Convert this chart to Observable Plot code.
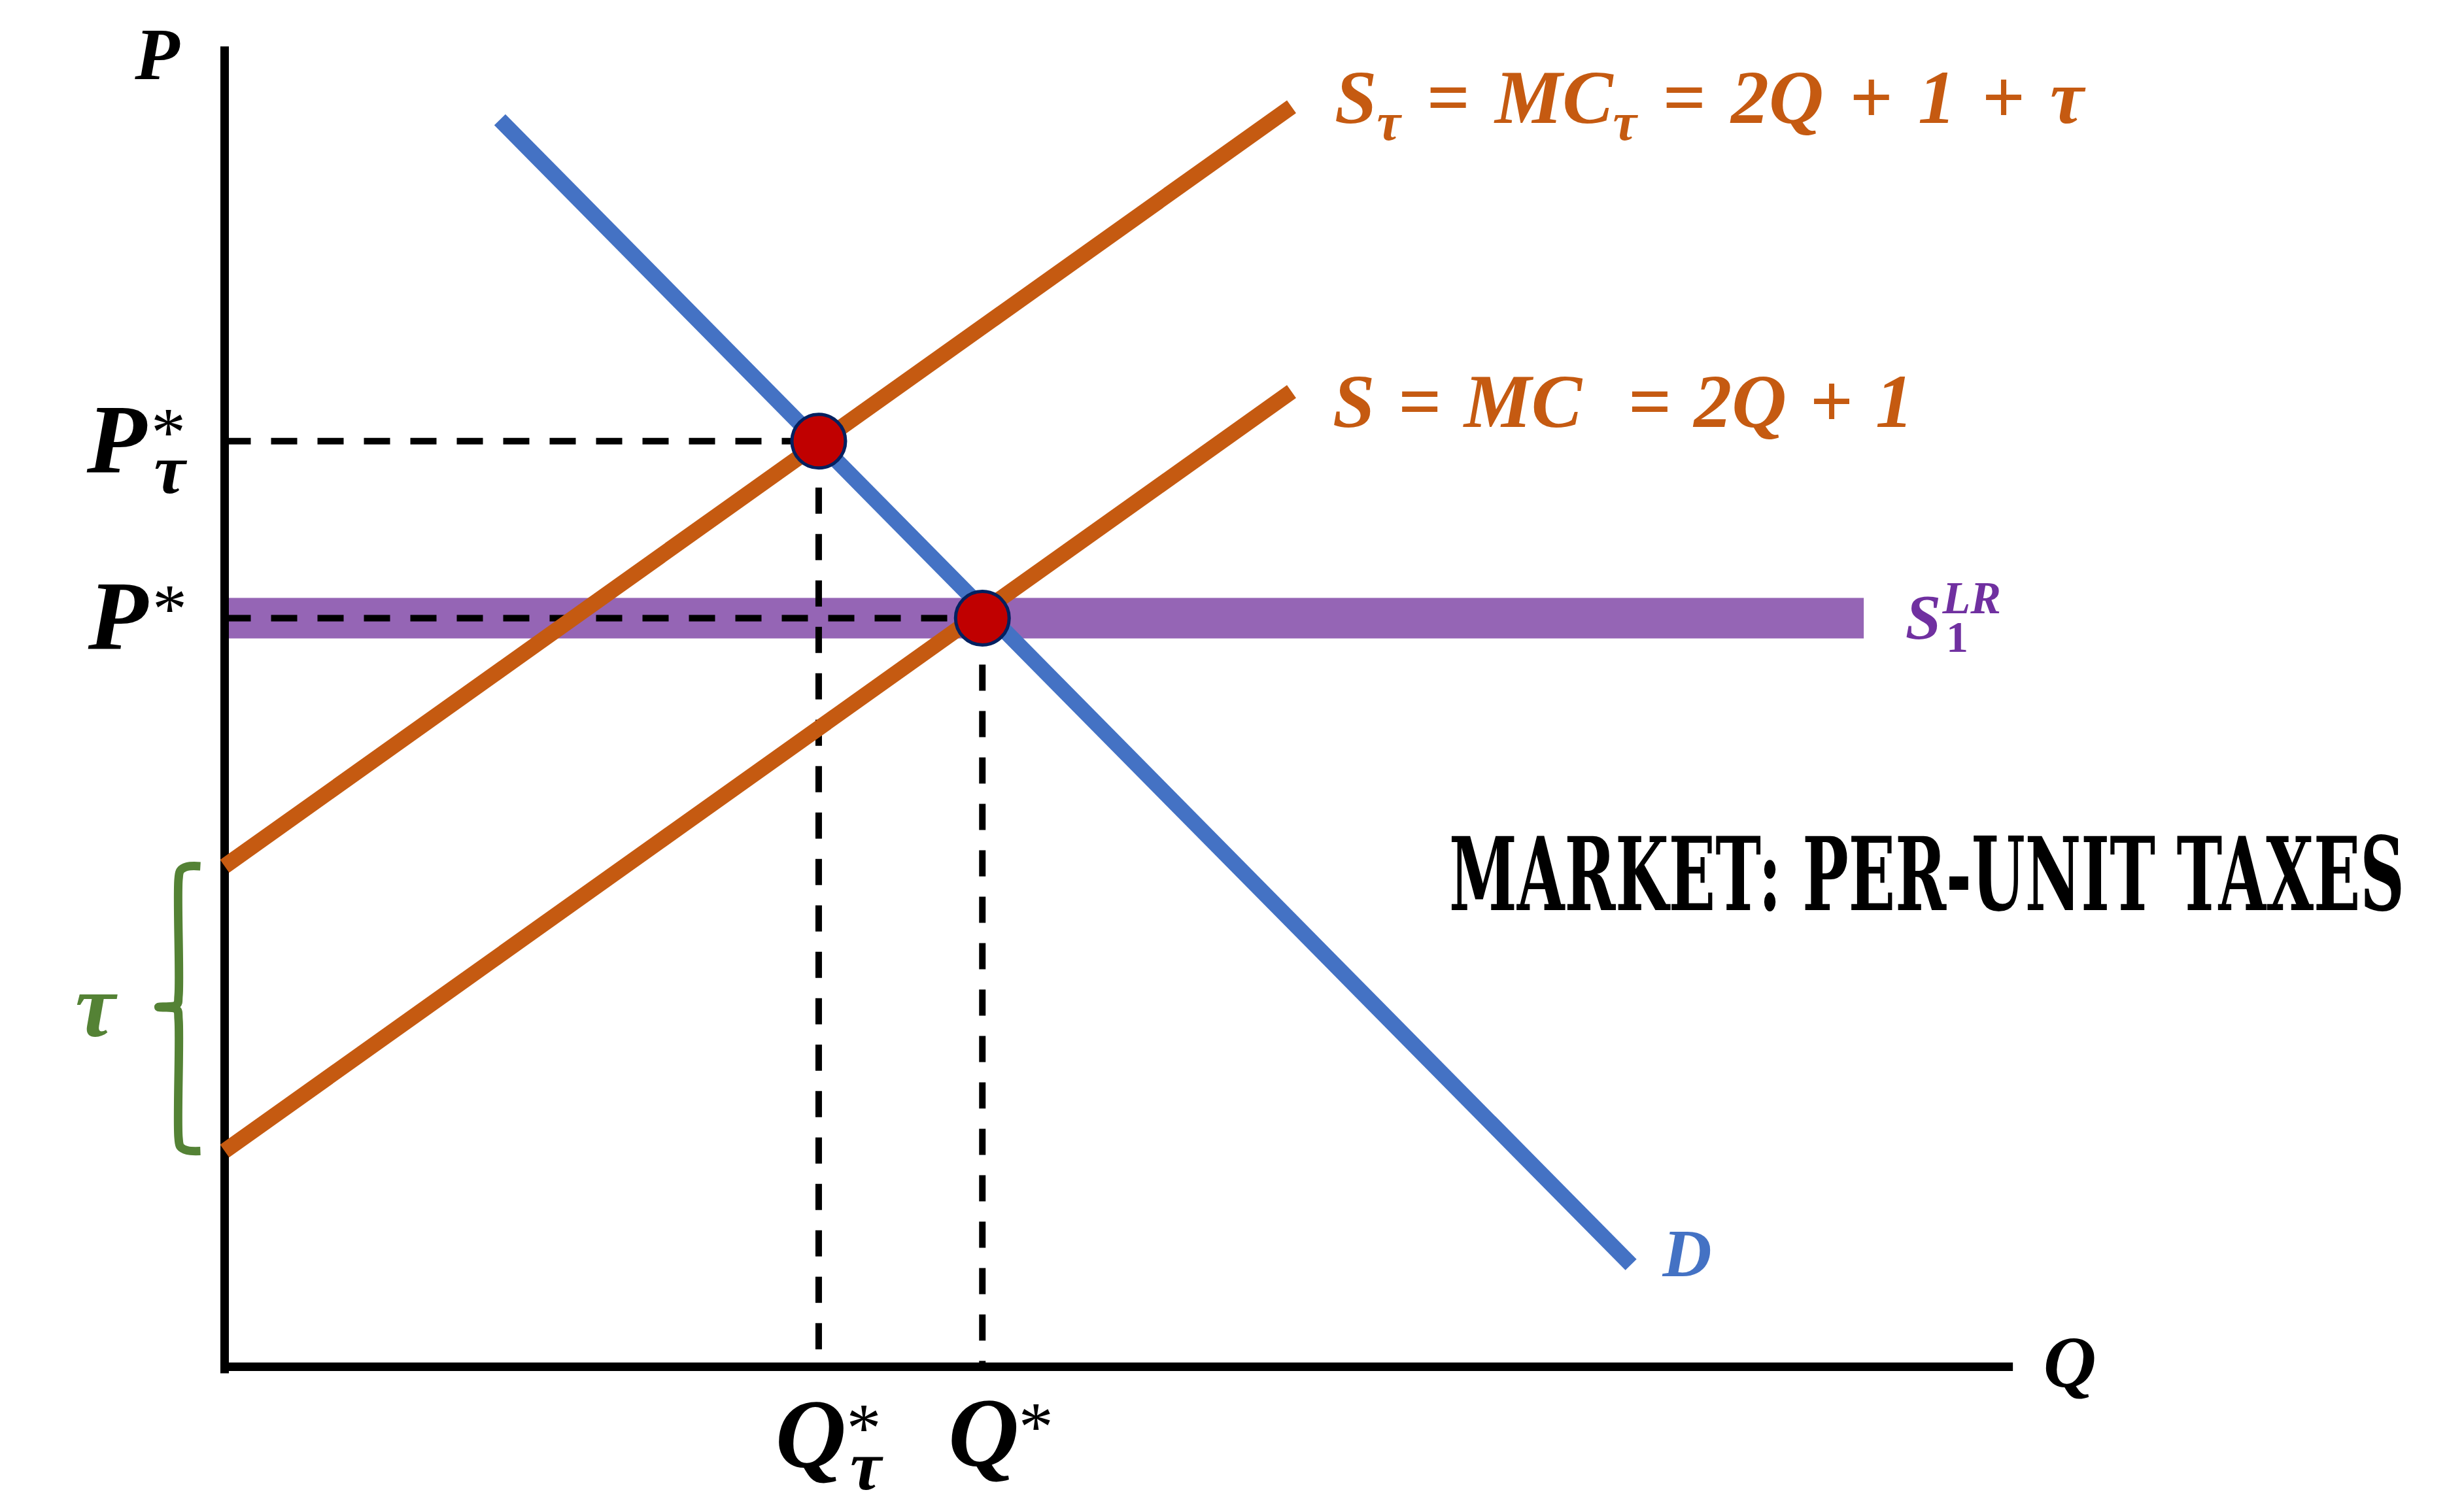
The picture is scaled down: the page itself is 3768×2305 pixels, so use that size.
<!DOCTYPE html>
<html>
<head>
<meta charset="utf-8">
<script src="https://cdn.jsdelivr.net/npm/d3@7"></script>
<script src="https://cdn.jsdelivr.net/npm/@observablehq/plot@0.6"></script>
<style>
  html, body { margin: 0; padding: 0; background: #ffffff; }
  #chart svg { display: block; }
</style>
</head>
<body>
<div id="chart"></div>
<script>
// ---------------- data ----------------
// axis extents (quantity, price units)
const axisQmax = 2.95;
const axisPmax = 6.12;

// demand D
const demandQ = [0.454, 2.32];
const demandP = [5.78, 0.473];

// supply S = MC = 2Q + 1
const supplyQ = [0, 1.76];
const supplyP = [1.0, 4.52];

// supply with per-unit tax S_tau = MC_tau = 2Q + 1 + tau
const taxSupplyQ = [0, 1.76];
const taxSupplyP = [2.32, 5.84];

// long-run supply S1^LR
const longRunQ = [-0.006, 2.704];
const longRunP = 3.47;

// equilibria: with tax, without tax
const eqNames = ["tau", "star"];
const eqQ = [0.98, 1.25];
const eqP = [4.29, 3.47];

// tax brace (between the two supply intercepts)
const braceQ = [-0.040, -0.062, -0.073, -0.076, -0.076, -0.079, -0.109, -0.079, -0.076, -0.076, -0.073, -0.062, -0.040];
const braceP = [2.32, 2.318, 2.30, 2.26, 1.72, 1.678, 1.667, 1.656, 1.61, 1.06, 1.02, 1.003, 1.0];

// text labels
const supplyLabel = "S = MC\u00a0 = 2Q + 1";
const taxSupplyLabel = "S_τ = MC_τ = 2Q + 1 + τ";
const titleText = "MARKET: PER-UNIT TAXES";

// ---------------- colours ----------------
const orange = "#C55A11";
const blue = "#4472C4";
const purpleBand = "#9565B5";
const purpleText = "#7030A0";
const green = "#548235";
const dotFill = "#C00000";
const dotStroke = "#002060";

const mathFont = '"Liberation Serif", "DejaVu Serif", serif';

const seg = (qs, ps) => [{q1: qs[0], p1: ps[0], q2: qs[1], p2: ps[1]}];
const pt = (q, p) => [{q, p}];

const T = (data, text, o) => Plot.text(data, {
  x: "q", y: "p", text: () => text,
  fontFamily: mathFont, fontWeight: "bold", fontStyle: "italic",
  textAnchor: "middle", lineAnchor: "middle", fill: "black", ...o
});

const L = (data, o) => Plot.link(data, {x1: "q1", y1: "p1", x2: "q2", y2: "p2", strokeLinecap: "butt", ...o});

const eqData = eqNames.map((n, i) => ({name: n, q: eqQ[i], p: eqP[i]}));
const star = {fontSize: 106, fontStyle: "normal", fontWeight: "normal"};

const chart = Plot.plot({
  width: 3768,
  height: 2305,
  x: {domain: [0, 3], range: [343, 3124], axis: null},
  y: {domain: [0, 6.3], range: [2090, 11], axis: null},
  style: {background: "white", overflow: "visible"},
  marks: [
    // long-run supply band
    L(seg(longRunQ, [longRunP, longRunP]), {stroke: purpleBand, strokeWidth: 62}),
    // axes
    L(seg([0, 0], [-0.03, axisPmax]), {stroke: "black", strokeWidth: 13}),
    L(seg([-0.004, axisQmax], [0, 0]), {stroke: "black", strokeWidth: 13}),
    // dashed guides
    L(eqData.map(d => ({q1: 0, p1: d.p, q2: d.q, p2: d.p})), {stroke: "black", strokeWidth: 10, strokeDasharray: "40,31"}),
    L(eqData.map(d => ({q1: d.q, p1: d.p, q2: d.q, p2: 0})), {stroke: "black", strokeWidth: 10, strokeDasharray: "40,31"}),
    // supply curves
    L(seg(supplyQ, supplyP), {stroke: orange, strokeWidth: 24}),
    L(seg(taxSupplyQ, taxSupplyP), {stroke: orange, strokeWidth: 24}),
    // demand
    L(seg(demandQ, demandP), {stroke: blue, strokeWidth: 24}),
    // equilibrium dots
    Plot.dot(eqData, {x: "q", y: "p", r: 41, fill: dotFill, stroke: dotStroke, strokeWidth: 5}),
    // tax brace
    Plot.line(braceQ.map((q, i) => ({q, p: braceP[i]})), {x: "q", y: "p", stroke: green, strokeWidth: 13, curve: "catmull-rom", strokeLinecap: "butt"}),

    // axis labels
    T(pt(0, axisPmax), "P", {dx: -103, dy: 14, fontSize: 112}),
    T(pt(axisQmax, 0), "Q", {dx: 87, dy: -5, fontSize: 112}),

    // price labels
    T(pt(0, eqP[0]), "P", {dx: -165, fontSize: 150}),
    T(pt(0, eqP[0]), "*", {dx: -86, dy: -12, ...star}),
    T(pt(0, eqP[0]), "τ", {dx: -84, dy: 45, fontSize: 108}),
    T(pt(0, eqP[1]), "P", {dx: -163, fontSize: 150}),
    T(pt(0, eqP[1]), "*", {dx: -84, dy: -12, ...star}),

    // quantity labels
    T(pt(eqQ[0], 0), "Q", {dx: -12, dy: 105, fontSize: 150}),
    T(pt(eqQ[0], 0), "*", {dx: 69, dy: 96, ...star}),
    T(pt(eqQ[0], 0), "τ", {dx: 72, dy: 153, fontSize: 108}),
    T(pt(eqQ[1], 0), "Q", {dx: 2, dy: 103, fontSize: 150}),
    T(pt(eqQ[1], 0), "*", {dx: 82, dy: 94, ...star}),

    // tax label
    T(pt(0, braceP[6]), "τ", {dx: -198, fontSize: 138, fill: green}),

    // long-run supply label
    T(pt(longRunQ[1], longRunP), "S", {dx: 91, fontSize: 98, fill: purpleText}),
    T(pt(longRunQ[1], longRunP), "LR", {dx: 165, dy: -30, fontSize: 70, fill: purpleText}),
    T(pt(longRunQ[1], longRunP), "1", {dx: 143, dy: 30, fontSize: 68, fontStyle: "normal", fill: purpleText}),

    // demand label
    T(pt(demandQ[1], demandP[1]), "D", {dx: 86, dy: -16, fontSize: 104, fill: blue}),

    // supply equations
    T(pt(supplyQ[1], supplyP[1]), supplyLabel, {dx: 63, dy: 17, fontSize: 116, fill: orange, textAnchor: "start"}),
    T(pt(taxSupplyQ[1], taxSupplyP[1]), taxSupplyLabel, {dx: 66, dy: -12, fontSize: 116, fill: orange, textAnchor: "start"}),

    // title
    Plot.text([titleText], {x: () => 2.808, y: () => 2.267, text: d => d, fontSize: 155,
      fontFamily: '"DejaVu Serif Condensed", "DejaVu Serif", serif', fontWeight: "bold",
      textAnchor: "middle", lineAnchor: "middle", fill: "black"})
  ]
});

document.getElementById("chart").appendChild(chart);

// subscripts written as _x become real tspans; equation spacing widened; title condensed
const NS = "http://www.w3.org/2000/svg";
chart.querySelectorAll("text").forEach(t => {
  const s = t.textContent;
  if (s === titleText) {
    const w = t.getComputedTextLength();
    const k = w > 0 ? 1461 / w : 0.75;
    const tr = t.getAttribute("transform") || "";
    t.setAttribute("transform", `${tr} scale(${k},1)`);
    return;
  }
  if (s === supplyLabel) {
    t.setAttribute("word-spacing", "6");
    return;
  }
  if (!s.includes("_")) return;
  t.textContent = "";
  t.setAttribute("word-spacing", "10");
  const parts = s.split(/(_.)/).filter(x => x.length);
  let shifted = false;
  for (const part of parts) {
    const ts = document.createElementNS(NS, "tspan");
    if (part.startsWith("_")) {
      ts.textContent = part.slice(1);
      ts.setAttribute("font-size", "82");
      ts.setAttribute("dy", "26");
      shifted = true;
    } else {
      ts.textContent = part;
      if (shifted) { ts.setAttribute("dy", "-26"); shifted = false; }
    }
    t.appendChild(ts);
  }
});
</script>
</body>
</html>
